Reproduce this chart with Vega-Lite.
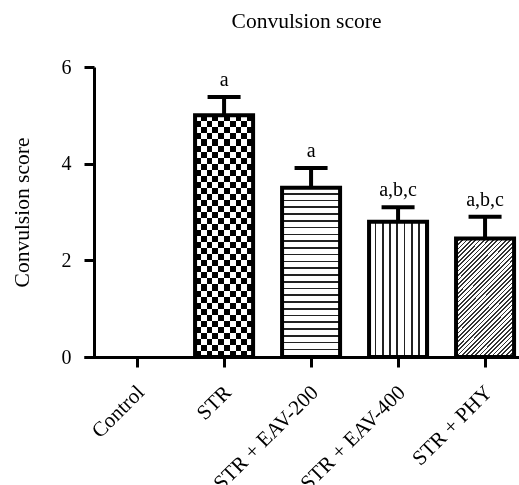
{
"$schema": "https://vega.github.io/schema/vega-lite/v6.json",
"width": 435, "height": 290,
"autosize": "none",
"padding": {"left": 84, "top": 67, "right": 0, "bottom": 128},
"background": "white",
"config": {"view": {"stroke": null}, "font": "Liberation Serif"},
"title": {"text": "Convulsion score", "fontSize": 21.5, "font": "Liberation Serif", "fontWeight": "normal", "color": "black", "offset": 25, "anchor": "middle", "dx": 5},
"data": {"values": [
 {"group": "Control", "value": 0, "upper": null, "sig": ""},
 {"group": "STR", "value": 5.0, "upper": 5.38, "sig": "a"},
 {"group": "STR + EAV-200", "value": 3.5, "upper": 3.91, "sig": "a"},
 {"group": "STR + EAV-400", "value": 2.8, "upper": 3.1, "sig": "a,b,c"},
 {"group": "STR + PHY", "value": 2.45, "upper": 2.9, "sig": "a,b,c"}
]},
"encoding": {
 "x": {"field": "group", "type": "nominal", "sort": null,
  "scale": {"domain": ["Control", "STR", "STR + EAV-200", "STR + EAV-400", "STR + PHY"], "paddingInner": 0.333, "paddingOuter": 0.1667, "align": 0.83},
  "axis": {"title": null, "labelAngle": -45, "labelAlign": "right", "labelBaseline": "middle", "labelFontSize": 21, "labelFont": "Liberation Serif", "labelColor": "black", "labelPadding": 22, "labelOffset": 4, "domainColor": "black", "domainWidth": 3, "tickColor": "black", "tickWidth": 3, "tickSize": 10, "grid": false}}
},
"layer": [
 {"transform": [{"filter": "datum.group === 'STR'"}],
  "mark": {"type": "bar", "stroke": null, "fill": {"gradient": "linear", "x1": 0, "y1": 0, "x2": 1, "y2": 0, "stops": [
   {"offset":0,"color":"#000"},{"offset":0.1,"color":"#000"},
   {"offset":0.1,"color":"#fff"},{"offset":0.2,"color":"#fff"},
   {"offset":0.2,"color":"#000"},{"offset":0.3,"color":"#000"},
   {"offset":0.3,"color":"#fff"},{"offset":0.4,"color":"#fff"},
   {"offset":0.4,"color":"#000"},{"offset":0.5,"color":"#000"},
   {"offset":0.5,"color":"#fff"},{"offset":0.6,"color":"#fff"},
   {"offset":0.6,"color":"#000"},{"offset":0.7,"color":"#000"},
   {"offset":0.7,"color":"#fff"},{"offset":0.8,"color":"#fff"},
   {"offset":0.8,"color":"#000"},{"offset":0.9,"color":"#000"},
   {"offset":0.9,"color":"#fff"},{"offset":1,"color":"#fff"}]}},
  "encoding": {"y": {"field": "value", "type": "quantitative", "scale": {"domain": [0, 6]},
   "axis": {"values": [0, 2, 4, 6], "title": "Convulsion score", "titleFontSize": 21.5, "titleFont": "Liberation Serif", "titleFontWeight": "normal", "titleColor": "black", "titlePadding": 28, "labelFontSize": 20, "labelFont": "Liberation Serif", "labelColor": "black", "labelPadding": 13, "domainColor": "black", "domainWidth": 3, "tickColor": "black", "tickWidth": 3, "tickSize": 10, "grid": false, "offset": -10}}}},
 {"transform": [{"filter": "datum.group === 'STR'"}],
  "mark": {"type": "bar", "stroke": null, "blend": "difference", "fill": {"gradient": "linear", "x1": 0, "y1": 0, "x2": 0, "y2": 1, "stops": [
   {"offset":0,"color":"#fff"},{"offset":0.025,"color":"#fff"},
   {"offset":0.025,"color":"#000"},{"offset":0.05,"color":"#000"},
   {"offset":0.05,"color":"#fff"},{"offset":0.075,"color":"#fff"},
   {"offset":0.075,"color":"#000"},{"offset":0.1,"color":"#000"},
   {"offset":0.1,"color":"#fff"},{"offset":0.125,"color":"#fff"},
   {"offset":0.125,"color":"#000"},{"offset":0.15,"color":"#000"},
   {"offset":0.15,"color":"#fff"},{"offset":0.175,"color":"#fff"},
   {"offset":0.175,"color":"#000"},{"offset":0.2,"color":"#000"},
   {"offset":0.2,"color":"#fff"},{"offset":0.225,"color":"#fff"},
   {"offset":0.225,"color":"#000"},{"offset":0.25,"color":"#000"},
   {"offset":0.25,"color":"#fff"},{"offset":0.275,"color":"#fff"},
   {"offset":0.275,"color":"#000"},{"offset":0.3,"color":"#000"},
   {"offset":0.3,"color":"#fff"},{"offset":0.325,"color":"#fff"},
   {"offset":0.325,"color":"#000"},{"offset":0.35,"color":"#000"},
   {"offset":0.35,"color":"#fff"},{"offset":0.375,"color":"#fff"},
   {"offset":0.375,"color":"#000"},{"offset":0.4,"color":"#000"},
   {"offset":0.4,"color":"#fff"},{"offset":0.425,"color":"#fff"},
   {"offset":0.425,"color":"#000"},{"offset":0.45,"color":"#000"},
   {"offset":0.45,"color":"#fff"},{"offset":0.475,"color":"#fff"},
   {"offset":0.475,"color":"#000"},{"offset":0.5,"color":"#000"},
   {"offset":0.5,"color":"#fff"},{"offset":0.525,"color":"#fff"},
   {"offset":0.525,"color":"#000"},{"offset":0.55,"color":"#000"},
   {"offset":0.55,"color":"#fff"},{"offset":0.575,"color":"#fff"},
   {"offset":0.575,"color":"#000"},{"offset":0.6,"color":"#000"},
   {"offset":0.6,"color":"#fff"},{"offset":0.625,"color":"#fff"},
   {"offset":0.625,"color":"#000"},{"offset":0.65,"color":"#000"},
   {"offset":0.65,"color":"#fff"},{"offset":0.675,"color":"#fff"},
   {"offset":0.675,"color":"#000"},{"offset":0.7,"color":"#000"},
   {"offset":0.7,"color":"#fff"},{"offset":0.725,"color":"#fff"},
   {"offset":0.725,"color":"#000"},{"offset":0.75,"color":"#000"},
   {"offset":0.75,"color":"#fff"},{"offset":0.775,"color":"#fff"},
   {"offset":0.775,"color":"#000"},{"offset":0.8,"color":"#000"},
   {"offset":0.8,"color":"#fff"},{"offset":0.825,"color":"#fff"},
   {"offset":0.825,"color":"#000"},{"offset":0.85,"color":"#000"},
   {"offset":0.85,"color":"#fff"},{"offset":0.875,"color":"#fff"},
   {"offset":0.875,"color":"#000"},{"offset":0.9,"color":"#000"},
   {"offset":0.9,"color":"#fff"},{"offset":0.925,"color":"#fff"},
   {"offset":0.925,"color":"#000"},{"offset":0.95,"color":"#000"},
   {"offset":0.95,"color":"#fff"},{"offset":0.975,"color":"#fff"},
   {"offset":0.975,"color":"#000"},{"offset":1,"color":"#000"}]}},
  "encoding": {"y": {"field": "value", "type": "quantitative"}}},
 {"transform": [{"filter": "datum.group === 'STR + EAV-200'"}],
  "mark": {"type": "bar", "stroke": null, "fill": {"gradient": "linear", "x1": 0, "y1": 0, "x2": 0, "y2": 1, "stops": [
   {"offset":0,"color":"#fff"},{"offset":0.03,"color":"#fff"},{"offset":0.03,"color":"#222"},{"offset":0.04,"color":"#222"},
   {"offset":0.04,"color":"#fff"},{"offset":0.07,"color":"#fff"},{"offset":0.07,"color":"#222"},{"offset":0.08,"color":"#222"},
   {"offset":0.08,"color":"#fff"},{"offset":0.11,"color":"#fff"},{"offset":0.11,"color":"#222"},{"offset":0.12,"color":"#222"},
   {"offset":0.12,"color":"#fff"},{"offset":0.15,"color":"#fff"},{"offset":0.15,"color":"#222"},{"offset":0.16,"color":"#222"},
   {"offset":0.16,"color":"#fff"},{"offset":0.19,"color":"#fff"},{"offset":0.19,"color":"#222"},{"offset":0.2,"color":"#222"},
   {"offset":0.2,"color":"#fff"},{"offset":0.23,"color":"#fff"},{"offset":0.23,"color":"#222"},{"offset":0.24,"color":"#222"},
   {"offset":0.24,"color":"#fff"},{"offset":0.27,"color":"#fff"},{"offset":0.27,"color":"#222"},{"offset":0.28,"color":"#222"},
   {"offset":0.28,"color":"#fff"},{"offset":0.31,"color":"#fff"},{"offset":0.31,"color":"#222"},{"offset":0.32,"color":"#222"},
   {"offset":0.32,"color":"#fff"},{"offset":0.35,"color":"#fff"},{"offset":0.35,"color":"#222"},{"offset":0.36,"color":"#222"},
   {"offset":0.36,"color":"#fff"},{"offset":0.39,"color":"#fff"},{"offset":0.39,"color":"#222"},{"offset":0.4,"color":"#222"},
   {"offset":0.4,"color":"#fff"},{"offset":0.43,"color":"#fff"},{"offset":0.43,"color":"#222"},{"offset":0.44,"color":"#222"},
   {"offset":0.44,"color":"#fff"},{"offset":0.47,"color":"#fff"},{"offset":0.47,"color":"#222"},{"offset":0.48,"color":"#222"},
   {"offset":0.48,"color":"#fff"},{"offset":0.51,"color":"#fff"},{"offset":0.51,"color":"#222"},{"offset":0.52,"color":"#222"},
   {"offset":0.52,"color":"#fff"},{"offset":0.55,"color":"#fff"},{"offset":0.55,"color":"#222"},{"offset":0.56,"color":"#222"},
   {"offset":0.56,"color":"#fff"},{"offset":0.59,"color":"#fff"},{"offset":0.59,"color":"#222"},{"offset":0.6,"color":"#222"},
   {"offset":0.6,"color":"#fff"},{"offset":0.63,"color":"#fff"},{"offset":0.63,"color":"#222"},{"offset":0.64,"color":"#222"},
   {"offset":0.64,"color":"#fff"},{"offset":0.67,"color":"#fff"},{"offset":0.67,"color":"#222"},{"offset":0.68,"color":"#222"},
   {"offset":0.68,"color":"#fff"},{"offset":0.71,"color":"#fff"},{"offset":0.71,"color":"#222"},{"offset":0.72,"color":"#222"},
   {"offset":0.72,"color":"#fff"},{"offset":0.75,"color":"#fff"},{"offset":0.75,"color":"#222"},{"offset":0.76,"color":"#222"},
   {"offset":0.76,"color":"#fff"},{"offset":0.79,"color":"#fff"},{"offset":0.79,"color":"#222"},{"offset":0.8,"color":"#222"},
   {"offset":0.8,"color":"#fff"},{"offset":0.83,"color":"#fff"},{"offset":0.83,"color":"#222"},{"offset":0.84,"color":"#222"},
   {"offset":0.84,"color":"#fff"},{"offset":0.87,"color":"#fff"},{"offset":0.87,"color":"#222"},{"offset":0.88,"color":"#222"},
   {"offset":0.88,"color":"#fff"},{"offset":0.91,"color":"#fff"},{"offset":0.91,"color":"#222"},{"offset":0.92,"color":"#222"},
   {"offset":0.92,"color":"#fff"},{"offset":0.95,"color":"#fff"},{"offset":0.95,"color":"#222"},{"offset":0.96,"color":"#222"},
   {"offset":0.96,"color":"#fff"},{"offset":0.99,"color":"#fff"},{"offset":0.99,"color":"#222"},{"offset":1,"color":"#222"}]}},
  "encoding": {"y": {"field": "value", "type": "quantitative"}}},
 {"transform": [{"filter": "datum.group === 'STR + EAV-400'"}],
  "mark": {"type": "bar", "stroke": null, "fill": {"gradient": "linear", "x1": 0, "y1": 0, "x2": 1, "y2": 0, "stops": [
   {"offset":0,"color":"#fff"},{"offset":0.095,"color":"#fff"},{"offset":0.095,"color":"#222"},{"offset":0.125,"color":"#222"},
   {"offset":0.125,"color":"#fff"},{"offset":0.22,"color":"#fff"},{"offset":0.22,"color":"#222"},{"offset":0.25,"color":"#222"},
   {"offset":0.25,"color":"#fff"},{"offset":0.345,"color":"#fff"},{"offset":0.345,"color":"#222"},{"offset":0.375,"color":"#222"},
   {"offset":0.375,"color":"#fff"},{"offset":0.47,"color":"#fff"},{"offset":0.47,"color":"#222"},{"offset":0.5,"color":"#222"},
   {"offset":0.5,"color":"#fff"},{"offset":0.595,"color":"#fff"},{"offset":0.595,"color":"#222"},{"offset":0.625,"color":"#222"},
   {"offset":0.625,"color":"#fff"},{"offset":0.72,"color":"#fff"},{"offset":0.72,"color":"#222"},{"offset":0.75,"color":"#222"},
   {"offset":0.75,"color":"#fff"},{"offset":0.845,"color":"#fff"},{"offset":0.845,"color":"#222"},{"offset":0.875,"color":"#222"},
   {"offset":0.875,"color":"#fff"},{"offset":0.97,"color":"#fff"},{"offset":0.97,"color":"#222"},{"offset":1,"color":"#222"}]}},
  "encoding": {"y": {"field": "value", "type": "quantitative"}}},
 {"transform": [{"filter": "datum.group === 'STR + PHY'"}],
  "mark": {"type": "bar", "stroke": null, "fill": {"gradient": "linear", "x1": 0, "y1": 0, "x2": 0.592, "y2": 1.2, "stops": [
   {"offset":0,"color":"#fff"},{"offset":0.015,"color":"#fff"},{"offset":0.015,"color":"#333"},{"offset":0.025,"color":"#333"},
   {"offset":0.025,"color":"#fff"},{"offset":0.04,"color":"#fff"},{"offset":0.04,"color":"#333"},{"offset":0.05,"color":"#333"},
   {"offset":0.05,"color":"#fff"},{"offset":0.065,"color":"#fff"},{"offset":0.065,"color":"#333"},{"offset":0.075,"color":"#333"},
   {"offset":0.075,"color":"#fff"},{"offset":0.09,"color":"#fff"},{"offset":0.09,"color":"#333"},{"offset":0.1,"color":"#333"},
   {"offset":0.1,"color":"#fff"},{"offset":0.115,"color":"#fff"},{"offset":0.115,"color":"#333"},{"offset":0.125,"color":"#333"},
   {"offset":0.125,"color":"#fff"},{"offset":0.14,"color":"#fff"},{"offset":0.14,"color":"#333"},{"offset":0.15,"color":"#333"},
   {"offset":0.15,"color":"#fff"},{"offset":0.165,"color":"#fff"},{"offset":0.165,"color":"#333"},{"offset":0.175,"color":"#333"},
   {"offset":0.175,"color":"#fff"},{"offset":0.19,"color":"#fff"},{"offset":0.19,"color":"#333"},{"offset":0.2,"color":"#333"},
   {"offset":0.2,"color":"#fff"},{"offset":0.215,"color":"#fff"},{"offset":0.215,"color":"#333"},{"offset":0.225,"color":"#333"},
   {"offset":0.225,"color":"#fff"},{"offset":0.24,"color":"#fff"},{"offset":0.24,"color":"#333"},{"offset":0.25,"color":"#333"},
   {"offset":0.25,"color":"#fff"},{"offset":0.265,"color":"#fff"},{"offset":0.265,"color":"#333"},{"offset":0.275,"color":"#333"},
   {"offset":0.275,"color":"#fff"},{"offset":0.29,"color":"#fff"},{"offset":0.29,"color":"#333"},{"offset":0.3,"color":"#333"},
   {"offset":0.3,"color":"#fff"},{"offset":0.315,"color":"#fff"},{"offset":0.315,"color":"#333"},{"offset":0.325,"color":"#333"},
   {"offset":0.325,"color":"#fff"},{"offset":0.34,"color":"#fff"},{"offset":0.34,"color":"#333"},{"offset":0.35,"color":"#333"},
   {"offset":0.35,"color":"#fff"},{"offset":0.365,"color":"#fff"},{"offset":0.365,"color":"#333"},{"offset":0.375,"color":"#333"},
   {"offset":0.375,"color":"#fff"},{"offset":0.39,"color":"#fff"},{"offset":0.39,"color":"#333"},{"offset":0.4,"color":"#333"},
   {"offset":0.4,"color":"#fff"},{"offset":0.415,"color":"#fff"},{"offset":0.415,"color":"#333"},{"offset":0.425,"color":"#333"},
   {"offset":0.425,"color":"#fff"},{"offset":0.44,"color":"#fff"},{"offset":0.44,"color":"#333"},{"offset":0.45,"color":"#333"},
   {"offset":0.45,"color":"#fff"},{"offset":0.465,"color":"#fff"},{"offset":0.465,"color":"#333"},{"offset":0.475,"color":"#333"},
   {"offset":0.475,"color":"#fff"},{"offset":0.49,"color":"#fff"},{"offset":0.49,"color":"#333"},{"offset":0.5,"color":"#333"},
   {"offset":0.5,"color":"#fff"},{"offset":0.515,"color":"#fff"},{"offset":0.515,"color":"#333"},{"offset":0.525,"color":"#333"},
   {"offset":0.525,"color":"#fff"},{"offset":0.54,"color":"#fff"},{"offset":0.54,"color":"#333"},{"offset":0.55,"color":"#333"},
   {"offset":0.55,"color":"#fff"},{"offset":0.565,"color":"#fff"},{"offset":0.565,"color":"#333"},{"offset":0.575,"color":"#333"},
   {"offset":0.575,"color":"#fff"},{"offset":0.59,"color":"#fff"},{"offset":0.59,"color":"#333"},{"offset":0.6,"color":"#333"},
   {"offset":0.6,"color":"#fff"},{"offset":0.615,"color":"#fff"},{"offset":0.615,"color":"#333"},{"offset":0.625,"color":"#333"},
   {"offset":0.625,"color":"#fff"},{"offset":0.64,"color":"#fff"},{"offset":0.64,"color":"#333"},{"offset":0.65,"color":"#333"},
   {"offset":0.65,"color":"#fff"},{"offset":0.665,"color":"#fff"},{"offset":0.665,"color":"#333"},{"offset":0.675,"color":"#333"},
   {"offset":0.675,"color":"#fff"},{"offset":0.69,"color":"#fff"},{"offset":0.69,"color":"#333"},{"offset":0.7,"color":"#333"},
   {"offset":0.7,"color":"#fff"},{"offset":0.715,"color":"#fff"},{"offset":0.715,"color":"#333"},{"offset":0.725,"color":"#333"},
   {"offset":0.725,"color":"#fff"},{"offset":0.74,"color":"#fff"},{"offset":0.74,"color":"#333"},{"offset":0.75,"color":"#333"},
   {"offset":0.75,"color":"#fff"},{"offset":0.765,"color":"#fff"},{"offset":0.765,"color":"#333"},{"offset":0.775,"color":"#333"},
   {"offset":0.775,"color":"#fff"},{"offset":0.79,"color":"#fff"},{"offset":0.79,"color":"#333"},{"offset":0.8,"color":"#333"},
   {"offset":0.8,"color":"#fff"},{"offset":0.815,"color":"#fff"},{"offset":0.815,"color":"#333"},{"offset":0.825,"color":"#333"},
   {"offset":0.825,"color":"#fff"},{"offset":0.84,"color":"#fff"},{"offset":0.84,"color":"#333"},{"offset":0.85,"color":"#333"},
   {"offset":0.85,"color":"#fff"},{"offset":0.865,"color":"#fff"},{"offset":0.865,"color":"#333"},{"offset":0.875,"color":"#333"},
   {"offset":0.875,"color":"#fff"},{"offset":0.89,"color":"#fff"},{"offset":0.89,"color":"#333"},{"offset":0.9,"color":"#333"},
   {"offset":0.9,"color":"#fff"},{"offset":0.915,"color":"#fff"},{"offset":0.915,"color":"#333"},{"offset":0.925,"color":"#333"},
   {"offset":0.925,"color":"#fff"},{"offset":0.94,"color":"#fff"},{"offset":0.94,"color":"#333"},{"offset":0.95,"color":"#333"},
   {"offset":0.95,"color":"#fff"},{"offset":0.965,"color":"#fff"},{"offset":0.965,"color":"#333"},{"offset":0.975,"color":"#333"},
   {"offset":0.975,"color":"#fff"},{"offset":0.99,"color":"#fff"},{"offset":0.99,"color":"#333"},{"offset":1,"color":"#333"}]}},
  "encoding": {"y": {"field": "value", "type": "quantitative"}}},
 {"transform": [{"filter": "datum.value > 0"}],
  "mark": {"type": "bar", "filled": false, "color": "black", "strokeWidth": 4},
  "encoding": {"y": {"field": "value", "type": "quantitative"}}},
 {"mark": {"type": "rule", "color": "black", "strokeWidth": 4},
  "encoding": {"y": {"field": "value", "type": "quantitative"}, "y2": {"field": "upper"}}},
 {"mark": {"type": "tick", "color": "black", "opacity": 1, "size": 33, "thickness": 4},
  "encoding": {"y": {"field": "upper", "type": "quantitative"}}},
 {"mark": {"type": "text", "color": "black", "fontSize": 20, "font": "Liberation Serif", "baseline": "alphabetic", "dy": -11},
  "encoding": {"y": {"field": "upper", "type": "quantitative"}, "text": {"field": "sig"}}}
]
}
